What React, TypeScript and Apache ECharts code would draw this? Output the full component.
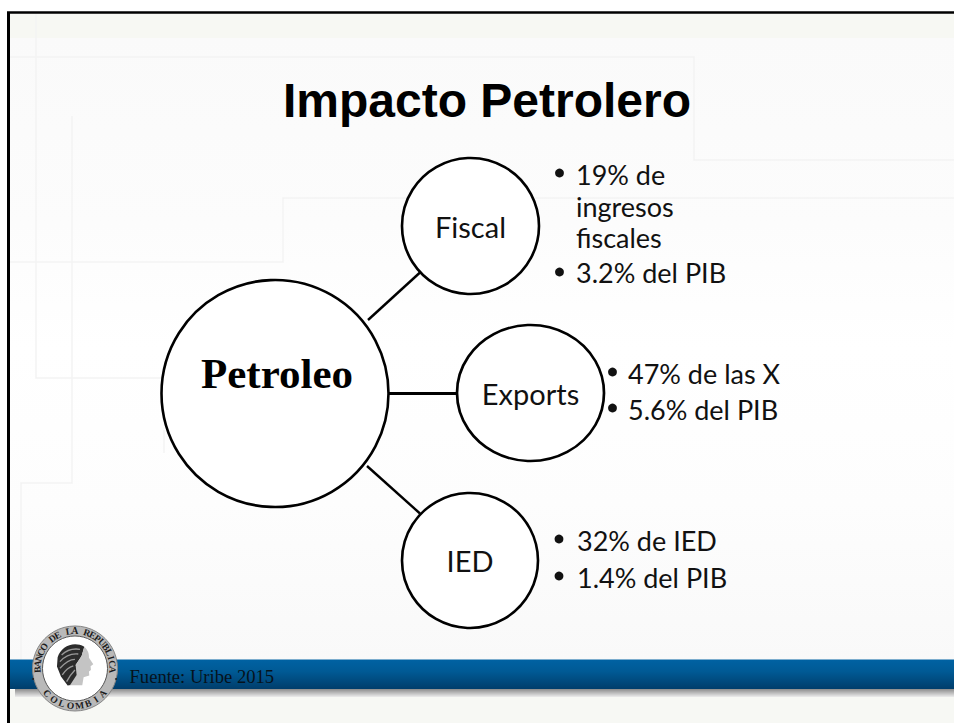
import React, { useEffect, useRef } from "react";
import * as echarts from "echarts";

const TITLE = "Impacto Petrolero";
const SOURCE = "Fuente: Uribe 2015";
const HUB = "Petroleo";
const BRANCHES = ["Fiscal", "Exports", "IED"];
const FISCAL_NOTES = ["19% de", "ingresos", "fiscales", "3.2% del PIB"];
const EXPORT_NOTES = ["47% de las X", "5.6% del PIB"];
const IED_NOTES = ["32% de IED", "1.4% del PIB"];
const SEAL_TOP = "BANCO DE LA REPUBLICA";
const SEAL_BOTTOM = "COLOMBIA";

const W = 954;
const H = 723;
const SANS = "Lato";

const HAIR =
  "M98,112 C108,80 145,62 178,80 L170,108 L152,135 L166,170 L170,190 L128,197 L108,170 L96,140 Z";
const FACE =
  "M178,80 C190,90 193,104 192,113 L205,133 L197,139 L198,150 L192,155 L193,167 L176,172 L172,196 L135,196 L155,165 L152,135 L170,108 Z";
const CURLS =
  "M110,105 C125,90 145,85 165,88 M105,125 C120,108 140,100 160,102 M105,145 C120,128 135,118 150,118 M112,165 C122,150 132,142 145,138 M125,185 C132,172 140,160 150,150";
echarts.graphic.registerShape("sealHair", echarts.graphic.extendPath(HAIR, {}) as any);
echarts.graphic.registerShape("sealFace", echarts.graphic.extendPath(FACE, {}) as any);
echarts.graphic.registerShape("sealCurls", echarts.graphic.extendPath(CURLS, {}) as any);

const bgLines: number[][][] = [
  [[10, 57], [694, 57], [694, 160], [954, 160]],
  [[954, 198], [283, 198], [283, 262], [10, 262]],
  [[36, 14], [36, 378], [162, 378]],
  [[72, 116], [72, 483], [21, 483], [21, 660]],
  [[164, 430], [164, 453]],
];

function noteText(text: string, x: number, y: number) {
  return {
    type: "text", z: 10, x, y,
    style: { text, fontFamily: SANS, fontSize: 27, fill: "#111", align: "left", verticalAlign: "middle" },
  };
}
function bullet(cx: number, cy: number) {
  return { type: "circle", z: 10, shape: { cx, cy, r: 4.4 }, style: { fill: "#111" } };
}

function sealElements() {
  const cx = 75, cy = 668.5;
  const head = { x: 25, y: 620, scaleX: 1 / 3, scaleY: 1 / 3 };
  const out: any[] = [
    { type: "circle", z: 6, shape: { cx, cy, r: 42.5 }, style: { fill: "#b9b9b9", stroke: "#858585", lineWidth: 1 } },
    { type: "circle", z: 6, shape: { cx, cy, r: 32.5 }, style: { fill: "#fff", stroke: "#555", lineWidth: 1 } },
    { type: "sealHair", z: 7, ...head, style: { fill: "#2c2c2c" } },
    { type: "sealCurls", z: 7, ...head, style: { fill: "none", stroke: "#9a9a9a", lineWidth: 4 } },
    { type: "sealFace", z: 7, ...head, style: { fill: "#c4c4c4" } },
    { type: "circle", z: 7, shape: { cx: 33, cy: 679, r: 1 }, style: { fill: "#222" } },
    { type: "circle", z: 7, shape: { cx: 116, cy: 679, r: 1 }, style: { fill: "#222" } },
  ];
  const r = 37.5;
  const topLetters = SEAL_TOP.split("");
  topLetters.forEach((ch, i) => {
    const th = ((-92 + (184 * i) / (topLetters.length - 1)) * Math.PI) / 180;
    out.push({
      type: "text", z: 8, x: cx + r * Math.sin(th), y: cy - r * Math.cos(th), rotation: -th,
      style: { text: ch, fontFamily: "Liberation Serif", fontWeight: "bold", fontSize: 9.5, fill: "#1c1c1c", align: "center", verticalAlign: "middle" },
    });
  });
  const botLetters = SEAL_BOTTOM.split("");
  botLetters.forEach((ch, i) => {
    const ph = ((-48 + (96 * i) / (botLetters.length - 1)) * Math.PI) / 180;
    out.push({
      type: "text", z: 8, x: cx + r * Math.sin(ph), y: cy + r * Math.cos(ph), rotation: ph,
      style: { text: ch, fontFamily: "Liberation Serif", fontWeight: "bold", fontSize: 9.5, fill: "#1c1c1c", align: "center", verticalAlign: "middle" },
    });
  });
  return out;
}

function buildOption() {
  const branchLabel = { show: true, fontFamily: SANS, fontSize: 29, color: "#111" };
  const nodes = [
    { name: HUB, value: [275, 393.5], symbolSize: [227, 227], label: { show: true, fontFamily: "Liberation Serif", fontWeight: "bold", fontSize: 43, color: "#000", offset: [2, -20] } },
    { name: BRANCHES[0], value: [470.5, 226], symbolSize: [137, 136], label: branchLabel },
    { name: BRANCHES[1], value: [530.5, 393], symbolSize: [147, 136], label: branchLabel },
    { name: BRANCHES[2], value: [470, 560.5], symbolSize: [136, 135], label: branchLabel },
    { name: "a0", value: [368, 320], symbolSize: 0, label: { show: false } },
    { name: "a1", value: [420, 272.5], symbolSize: 0, label: { show: false } },
    { name: "a2", value: [388, 393], symbolSize: 0, label: { show: false } },
    { name: "a3", value: [458, 393], symbolSize: 0, label: { show: false } },
    { name: "a4", value: [367, 466], symbolSize: 0, label: { show: false } },
    { name: "a5", value: [420, 513.5], symbolSize: 0, label: { show: false } },
  ];
  const links = [
    { source: "a0", target: "a1", lineStyle: { width: 2.4 } },
    { source: "a2", target: "a3", lineStyle: { width: 3 } },
    { source: "a4", target: "a5", lineStyle: { width: 2.4 } },
  ];

  const elements: any[] = [
    { type: "rect", z: 0, shape: { x: 7, y: 12, width: W, height: H }, style: { fill: "#fff" } },
    {
      type: "rect", z: 0, shape: { x: 9, y: 37, width: W, height: 623 },
      style: {
        fill: {
          type: "linear", x: 0, y: 0, x2: 0, y2: 1,
          colorStops: [
            { offset: 0, color: "#fafafa" },
            { offset: 0.3, color: "#fcfcfc" },
            { offset: 0.5, color: "#ffffff" },
            { offset: 0.75, color: "#fdfdfd" },
            { offset: 1, color: "#f9f9f9" },
          ],
        },
      },
    },
    { type: "rect", z: 0, shape: { x: 9, y: 13, width: W, height: 25 }, style: { fill: "#f7f8f3" } },
    { type: "rect", z: 0, shape: { x: 9, y: 690, width: W, height: 40 }, style: { fill: "#f7f8f4" } },
    ...bgLines.map((points) => ({
      type: "polyline", z: 1, shape: { points },
      style: { fill: "none", stroke: "#f3f3f3", lineWidth: 1.5 },
    })),
    {
      type: "rect", z: 3, shape: { x: 15, y: 689, width: W, height: 8 },
      style: {
        fill: {
          type: "linear", x: 0, y: 0, x2: 0, y2: 1,
          colorStops: [
            { offset: 0, color: "#8c8c8c" },
            { offset: 1, color: "#ececec" },
          ],
        },
      },
    },
    {
      type: "rect", z: 4, shape: { x: 9, y: 659.5, width: W, height: 29.5 },
      style: {
        fill: {
          type: "linear", x: 0, y: 0, x2: 0, y2: 1,
          colorStops: [
            { offset: 0, color: "#0062a3" },
            { offset: 0.4, color: "#005a95" },
            { offset: 1, color: "#003d6b" },
          ],
        },
      },
    },
    { type: "line", z: 5, shape: { x1: 8.5, y1: 12.5, x2: 8.5, y2: H }, style: { stroke: "#000", lineWidth: 3 } },
    { type: "line", z: 5, shape: { x1: 7, y1: 12.5, x2: W, y2: 12.5 }, style: { stroke: "#000", lineWidth: 2.4 } },
    ...sealElements(),
    {
      type: "text", z: 10, x: 129.5, y: 676,
      style: { text: SOURCE, fontFamily: "Liberation Serif", fontSize: 18.6, fill: "#06121c", align: "left", verticalAlign: "middle" },
    },
    {
      type: "text", z: 10, x: 487, y: 100,
      style: { text: TITLE, fontFamily: "Liberation Sans", fontWeight: "bold", fontSize: 48, fill: "#000", align: "center", verticalAlign: "middle" },
    },
    bullet(559.5, 173),
    noteText(FISCAL_NOTES[0], 576, 174),
    noteText(FISCAL_NOTES[1], 576, 206),
    noteText(FISCAL_NOTES[2], 576, 237),
    bullet(559.5, 272),
    noteText(FISCAL_NOTES[3], 576, 272),
    bullet(612.5, 372),
    noteText(EXPORT_NOTES[0], 628, 373),
    bullet(612.5, 408),
    noteText(EXPORT_NOTES[1], 628, 409),
    bullet(559, 539),
    noteText(IED_NOTES[0], 577, 540),
    bullet(559, 576),
    noteText(IED_NOTES[1], 577, 577),
  ];

  return {
    animation: false,
    grid: { left: 0, right: 0, top: 0, bottom: 0 },
    xAxis: { type: "value", min: 0, max: W, show: false },
    yAxis: { type: "value", min: 0, max: H, inverse: true, show: false },
    graphic: { elements },
    series: [
      {
        type: "graph",
        coordinateSystem: "cartesian2d",
        layout: "none",
        silent: true,
        z: 2,
        symbol: "circle",
        itemStyle: { color: "#fff", borderColor: "#000", borderWidth: 2.6 },
        lineStyle: { color: "#000", opacity: 1, curveness: 0 },
        label: { position: "inside" },
        data: nodes,
        links,
      },
    ],
  };
}

export default function App() {
  const ref = useRef<HTMLDivElement>(null);
  useEffect(() => {
    const chart = echarts.init(ref.current!, undefined, { renderer: "svg" });
    chart.setOption(buildOption() as any);
    return () => chart.dispose();
  }, []);
  return <div ref={ref} style={{ position: "fixed", left: 0, top: 0, width: W, height: H, background: "#fff" }} />;
}
